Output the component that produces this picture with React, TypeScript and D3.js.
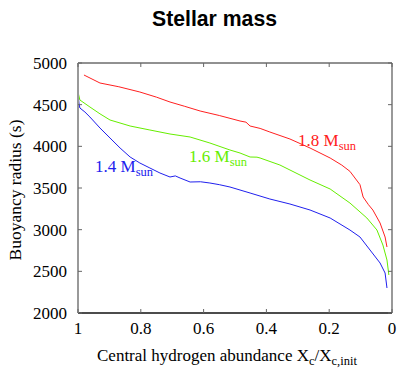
import React from "react";
import * as d3 from "d3";

const xTicks = [1, 0.8, 0.6, 0.4, 0.2, 0];
const yTicks = [2000, 2500, 3000, 3500, 4000, 4500, 5000];

const red18: [number, number][] = [
  [0.981, 4856], [0.93, 4760], [0.87, 4715], [0.803, 4652], [0.75, 4590], [0.707, 4532],
  [0.66, 4480], [0.611, 4424], [0.55, 4370], [0.5, 4320], [0.484, 4304], [0.465, 4290],
  [0.452, 4244], [0.42, 4215], [0.389, 4172], [0.325, 4088], [0.261, 3980], [0.197, 3860],
  [0.16, 3775], [0.134, 3700], [0.102, 3540], [0.092, 3392], [0.075, 3300], [0.061, 3236],
  [0.038, 3080], [0.022, 2912], [0.016, 2792],
];
const green16: [number, number][] = [
  [1.0, 4652], [0.994, 4556], [0.962, 4472], [0.93, 4390], [0.898, 4316], [0.834, 4244],
  [0.771, 4196], [0.707, 4148], [0.643, 4112], [0.58, 4040], [0.516, 3956], [0.484, 3920],
  [0.452, 3872], [0.43, 3870], [0.42, 3860], [0.357, 3776], [0.293, 3656], [0.261, 3596],
  [0.197, 3488], [0.134, 3320], [0.08, 3140], [0.048, 2996], [0.029, 2816], [0.016, 2636],
  [0.01, 2456],
];
const blue14: [number, number][] = [
  [1.0, 4650], [0.997, 4520], [0.994, 4460], [0.978, 4412], [0.962, 4352], [0.93, 4220],
  [0.898, 4100], [0.866, 3980], [0.834, 3872], [0.803, 3800], [0.771, 3740], [0.739, 3680],
  [0.707, 3632], [0.69, 3645], [0.675, 3620], [0.643, 3572], [0.61, 3575], [0.58, 3560],
  [0.55, 3540], [0.516, 3512], [0.452, 3440], [0.389, 3368], [0.325, 3308], [0.261, 3236],
  [0.197, 3140], [0.134, 2996], [0.102, 2912], [0.07, 2756], [0.038, 2600], [0.022, 2480],
  [0.016, 2300],
];

const series = [
  { name: "1.8", data: red18, color: "#ff2020", lx: 298, ly: 146 },
  { name: "1.6", data: green16, color: "#66ee00", lx: 189, ly: 162 },
  { name: "1.4", data: blue14, color: "#2020ee", lx: 95, ly: 172 },
];

export default function App() {
  const W = 399, H = 369;
  const L = 78, R = 392, T = 63, B = 313;
  const x = d3.scaleLinear().domain([1, 0]).range([L, R]);
  const y = d3.scaleLinear().domain([2000, 5000]).range([B, T]);
  const line = d3.line<[number, number]>().x((d) => x(d[0])).y((d) => y(d[1]));
  const serif = "'Liberation Serif', 'Times New Roman', serif";
  const tk = 4;
  return (
    <svg width={W} height={H} style={{ position: "absolute", left: 0, top: 0, background: "#fff" }}>
      <text x={152} y={26} textLength={125} lengthAdjust="spacingAndGlyphs"
        fontFamily="'Liberation Sans', sans-serif" fontWeight="bold" fontSize={22}>
        Stellar mass
      </text>
      {series.map((s) => (
        <path key={s.name} d={line(s.data) || ""} fill="none" stroke={s.color} strokeWidth={1} />
      ))}
      {/* frame */}
      <line x1={L} y1={T} x2={R} y2={T} stroke="#222" strokeWidth={1} />
      <line x1={R} y1={T} x2={R} y2={B} stroke="#555" strokeWidth={1.2} />
      <line x1={L} y1={B} x2={R} y2={B} stroke="#111" strokeWidth={1.5} />
      <line x1={L} y1={T} x2={L} y2={B} stroke="#999" strokeWidth={2} />
      {yTicks.map((v) => (
        <g key={v}>
          <line x1={L} x2={L + tk} y1={y(v)} y2={y(v)} stroke="#666" />
          <line x1={R} x2={R - tk} y1={y(v)} y2={y(v)} stroke="#666" />
          <text x={67} y={y(v) + 6} textAnchor="end" fontFamily={serif} fontSize={17}>{v}</text>
        </g>
      ))}
      {xTicks.map((v) => (
        <g key={v}>
          <line x1={x(v)} x2={x(v)} y1={B} y2={B - tk} stroke="#666" />
          <line x1={x(v)} x2={x(v)} y1={T} y2={T + tk} stroke="#666" />
          <text x={x(v)} y={334} textAnchor="middle" fontFamily={serif} fontSize={17}>{v}</text>
        </g>
      ))}
      <text x={97} y={361} fontFamily={serif} fontSize={17}>
        Central hydrogen abundance X<tspan dy={4} fontSize={12.5}>c</tspan>
        <tspan dy={-4}>/X</tspan><tspan dy={4} fontSize={12.5}>c,init</tspan>
      </text>
      <text transform={`translate(21,190) rotate(-90)`} textAnchor="middle" fontFamily={serif} fontSize={17.5}>
        Buoyancy radius (s)
      </text>
      {series.map((s) => (
        <text key={"l" + s.name} x={s.lx} y={s.ly} fill={s.color} fontFamily={serif} fontSize={17}>
          {s.name} M<tspan dy={4} fontSize={12.5}>sun</tspan>
        </text>
      ))}
    </svg>
  );
}
